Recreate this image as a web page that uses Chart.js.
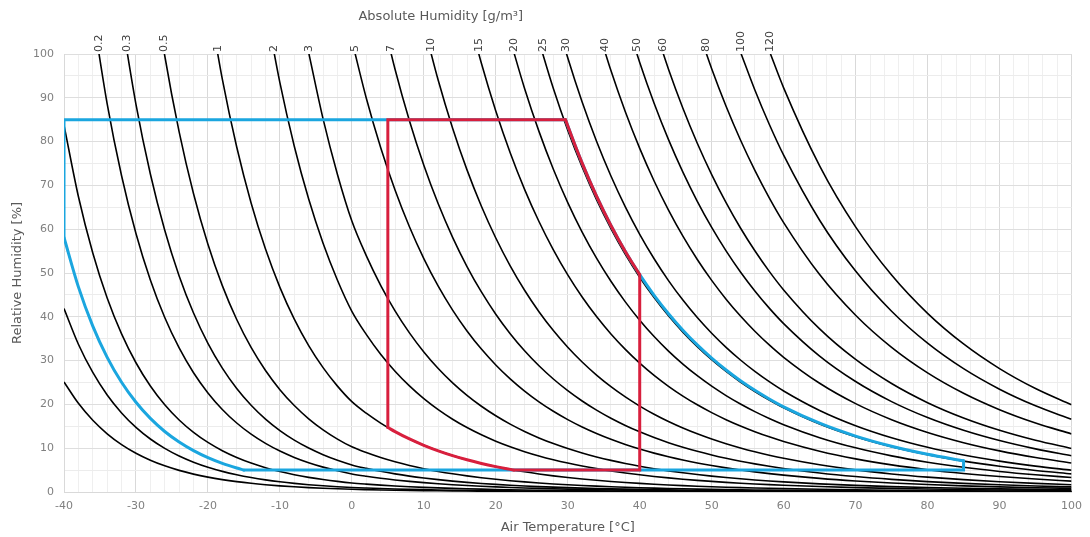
<!DOCTYPE html>
<html>
<head>
<meta charset="utf-8">
<script src="https://cdn.jsdelivr.net/npm/chart.js@4.4.1/dist/chart.umd.min.js"></script>
<style>
  html, body { margin: 0; padding: 0; background: #fff; }
  #wrap { width: 1090px; height: 537px; }
</style>
</head>
<body>
<div id="wrap"><canvas id="chart"></canvas></div>
<script>
// air temperature grid [°C] and saturation vapour density at each one [g/m³]
const temperatures = [
  -40, -38, -36, -34, -32, -30, -28, -26, -24, -22, -20, -18, -16, -14, -12, -10, -8, -6, -4, -2, 0,
  2, 4, 6, 8, 10, 12, 14, 16, 18, 20, 22, 24, 26, 28, 30, 32, 34, 36, 38, 40,
  42, 44, 46, 48, 50, 52, 54, 56, 58, 60, 65, 70, 75, 80, 85, 90, 95, 100
];
const saturationDensity = [
  0.1194, 0.1482, 0.1832, 0.2257, 0.2770, 0.3389, 0.4132, 0.5020, 0.6081, 0.7343, 0.8839,
  1.0610, 1.2697, 1.5152, 1.8031, 2.1400, 2.5332, 2.9907, 3.5221, 4.1376, 4.8489,
  5.5578, 6.3561, 7.2528, 8.2582, 9.3830, 10.639, 12.039, 13.597, 15.326, 17.243,
  19.364, 21.707, 24.291, 27.136, 30.264, 33.697, 37.459, 41.576, 46.074, 50.983,
  56.332, 62.152, 68.478, 75.343, 82.785, 90.841, 99.553, 108.96, 119.11, 130.05,
  161.15, 198.27, 242.31, 294.22, 355.07, 425.98, 508.21, 603.06
];

// absolute humidity of each black curve [g/m³]
const humidityLevels = [0.03, 0.05, 0.1, 0.2, 0.3, 0.5, 1, 2, 3, 5, 7, 10, 15, 20, 25, 30, 40, 50, 60, 80, 100, 120];
const labelledLevels = [0.2, 0.3, 0.5, 1, 2, 3, 5, 7, 10, 15, 20, 25, 30, 40, 50, 60, 80, 100, 120];

// envelope outlines
const upperTemps = [29.7, 30, 32, 34, 36, 38, 40, 42, 44, 46, 48, 50, 52, 54, 56, 58, 60, 65, 70, 75, 80, 85];
const upperRh = [85, 83.6, 75.08, 67.54, 60.85, 54.91, 49.62, 44.91, 40.71, 36.95, 33.58, 30.56, 27.85, 25.41, 23.22, 21.24, 19.45, 15.70, 12.76, 10.44, 8.60, 7.13];
const blueLowTemps = [-40, -38, -36, -34, -32, -30, -28, -26, -24, -22, -20, -18, -16, -15];
const blueLowRh = [58.1, 46.83, 37.88, 30.75, 25.05, 20.48, 16.80, 13.82, 11.41, 9.45, 7.85, 6.54, 5.47, 5.0];
const redLowTemps = [5, 6, 8, 10, 12, 14, 16, 18, 20, 22, 22.5];
const redLowRh = [14.73, 13.79, 12.11, 10.66, 9.40, 8.31, 7.35, 6.52, 5.80, 5.16, 5.0];
const blueEdgeATemps = [-40, -40, 29.7];
const blueEdgeARh = [58.1, 85, 85];
const blueEdgeBTemps = [-15, 85, 85];
const blueEdgeBRh = [5, 5, 7.13];
const redEdgeATemps = [5, 5, 29.7];
const redEdgeARh = [14.73, 85, 85];
const redEdgeBTemps = [22.5, 40, 40];
const redEdgeBRh = [5, 5, 49.62];

const BLUE = '#1ba6df';
const RED = '#d81f3d';

function pts(xs, ys) {
  return xs.map((x, i) => ({ x: x, y: ys[i] }));
}

function isoCurve(level) {
  const p = temperatures.map((t, i) => ({ x: t, y: 100 * level / saturationDensity[i] }));
  const first = p.findIndex(q => q.y <= 100);
  return p.slice(Math.max(0, first - 1));
}

function topCrossing(level) {
  const p = isoCurve(level);
  if (p[0].y <= 100) return null;
  const a = p[0], b = p[1];
  const f = Math.log(a.y / 100) / Math.log(a.y / b.y);
  return a.x + f * (b.x - a.x);
}

function outline(data, color, curved, order) {
  return {
    data: data,
    borderColor: color,
    borderWidth: 3,
    pointRadius: 0,
    tension: 0,
    cubicInterpolationMode: curved ? 'monotone' : 'default',
    borderCapStyle: 'round',
    borderJoinStyle: 'miter',
    order: order
  };
}

const datasets = [
  outline(pts(redEdgeATemps, redEdgeARh), RED, false, 0),
  outline(pts(redEdgeBTemps, redEdgeBRh), RED, false, 0),
  outline(pts(upperTemps.slice(0, 7), upperRh.slice(0, 7)), RED, true, 0),
  outline(pts(redLowTemps, redLowRh), RED, true, 0),
  outline(pts(blueEdgeATemps, blueEdgeARh), BLUE, false, 1),
  outline(pts(blueEdgeBTemps, blueEdgeBRh), BLUE, false, 1),
  outline(pts(upperTemps, upperRh), BLUE, true, 1),
  outline(pts(blueLowTemps, blueLowRh), BLUE, true, 1)
];
humidityLevels.forEach(level => {
  datasets.push({
    data: isoCurve(level),
    borderColor: '#000',
    borderWidth: 1.6,
    pointRadius: 0,
    cubicInterpolationMode: 'monotone',
    order: 2
  });
});

const curveLabels = {
  id: 'curveLabels',
  afterDraw(chart) {
    const { ctx, chartArea, scales } = chart;
    ctx.save();
    ctx.fillStyle = '#404040';
    ctx.font = '11px "DejaVu Sans"';
    ctx.textAlign = 'left';
    ctx.textBaseline = 'middle';
    labelledLevels.forEach(level => {
      const t = topCrossing(level);
      if (t === null) return;
      const x = scales.x.getPixelForValue(t);
      ctx.save();
      ctx.translate(x, chartArea.top - 2);
      ctx.rotate(-Math.PI / 2);
      ctx.fillText(String(level), 0, 0);
      ctx.restore();
    });
    ctx.fillStyle = '#595959';
    ctx.font = '13px "DejaVu Sans"';
    ctx.textAlign = 'center';
    ctx.fillText('Absolute Humidity [g/m³]', chartArea.left + chartArea.width * 0.374, 17);
    ctx.restore();
  }
};

new Chart(document.getElementById('chart'), {
  type: 'line',
  data: { datasets: datasets },
  options: {
    responsive: true,
    maintainAspectRatio: false,
    animation: false,
    layout: { padding: { top: 54, right: 15, left: 0, bottom: 0 } },
    plugins: {
      legend: { display: false },
      tooltip: { enabled: false }
    },
    scales: {
      x: {
        type: 'linear',
        min: -40,
        max: 100,
        afterFit: s => { s.height = 45; },
        ticks: {
          stepSize: 2,
          autoSkip: false,
          maxRotation: 0,
          padding: 8,
          color: '#808080',
          font: { family: 'DejaVu Sans', size: 11 },
          callback: v => (v % 10 === 0 ? v : '')
        },
        grid: {
          drawTicks: false,
          color: c => (c.tick && c.tick.value % 10 === 0 ? '#d9d9d9' : '#efefef')
        },
        border: { color: '#d9d9d9' },
        title: {
          display: true,
          text: 'Air Temperature [°C]',
          color: '#595959',
          font: { family: 'DejaVu Sans', size: 13 },
          padding: { top: 0, bottom: 2 }
        }
      },
      y: {
        min: 0,
        max: 100,
        afterFit: s => { s.width = 64; },
        ticks: {
          stepSize: 5,
          padding: 10,
          color: '#808080',
          font: { family: 'DejaVu Sans', size: 11 },
          callback: v => (v % 10 === 0 ? v : '')
        },
        grid: {
          drawTicks: false,
          color: c => (c.tick && c.tick.value % 10 === 0 ? '#dedede' : '#ececec')
        },
        border: { color: '#d9d9d9' },
        title: {
          display: true,
          text: 'Relative Humidity [%]',
          color: '#595959',
          font: { family: 'DejaVu Sans', size: 13 },
          padding: { top: 10, bottom: 0 }
        }
      }
    }
  },
  plugins: [curveLabels]
});
</script>
</body>
</html>
